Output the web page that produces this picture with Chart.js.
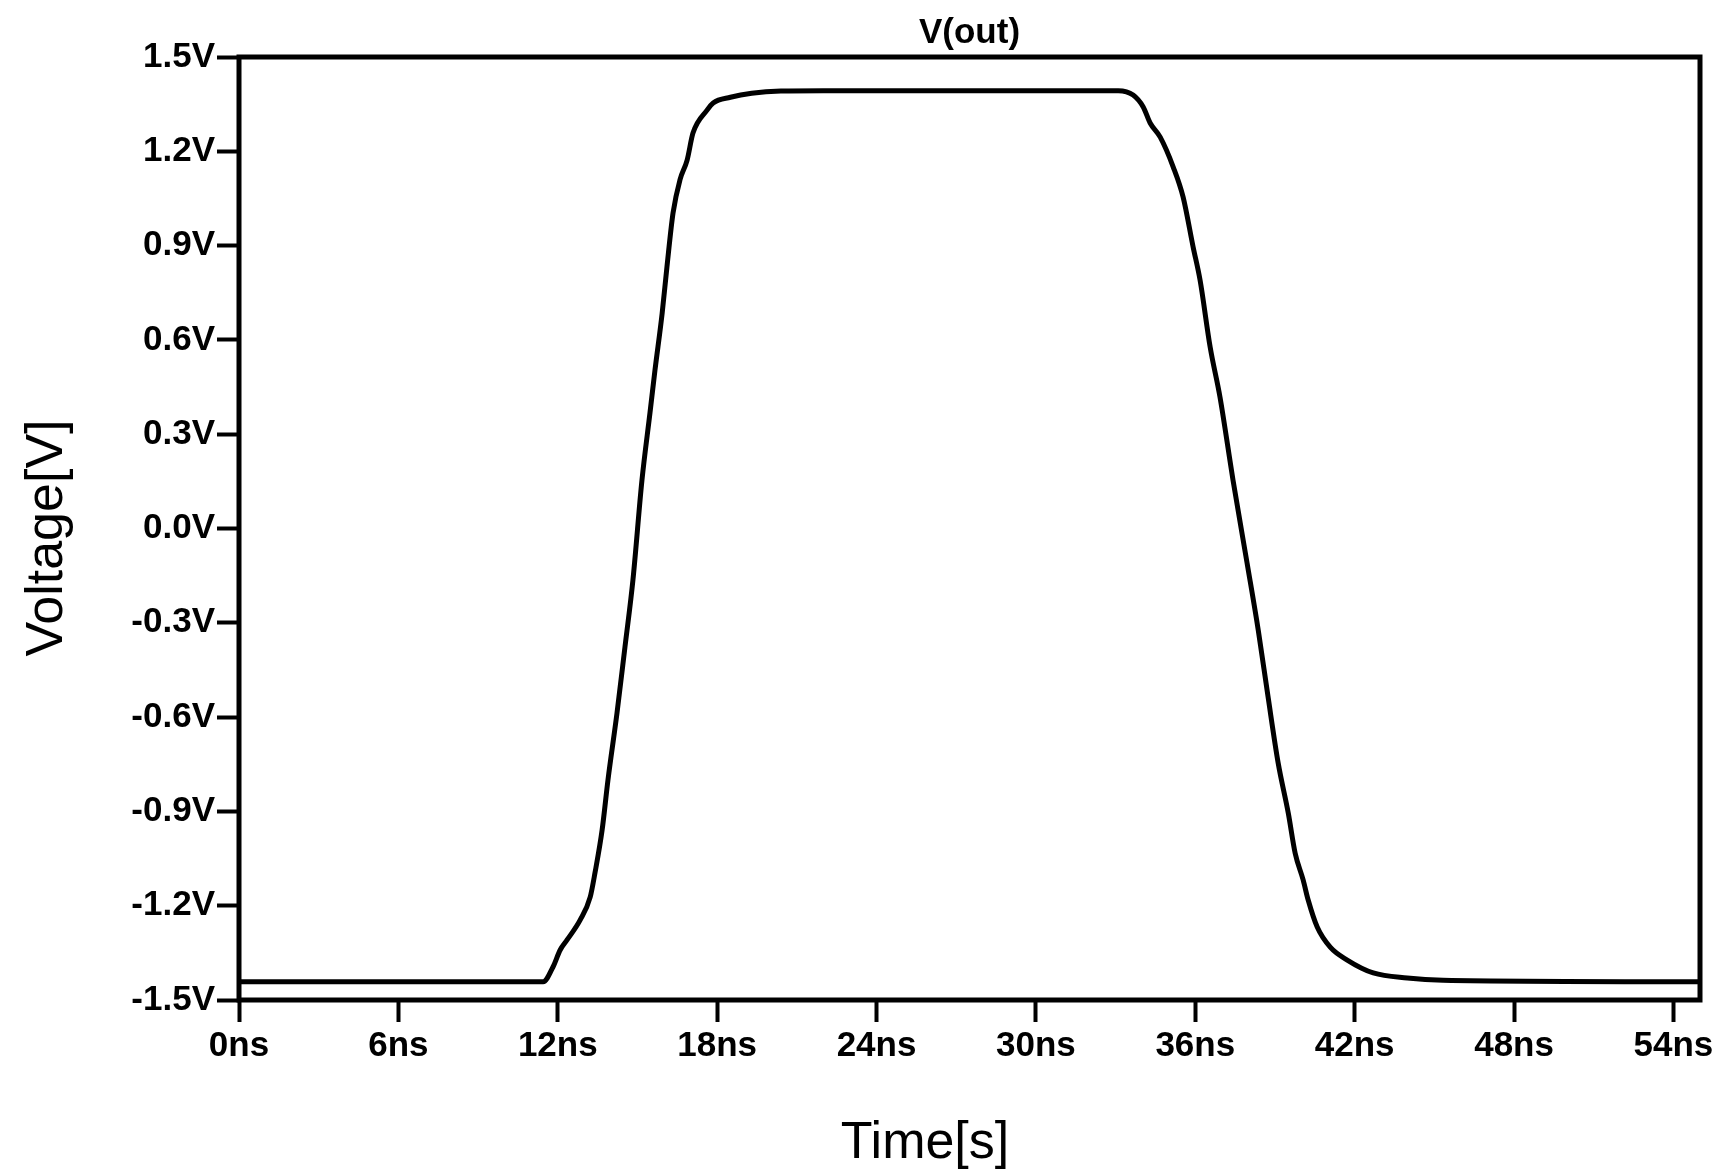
<!DOCTYPE html>
<html>
<head>
<meta charset="utf-8">
<script src="https://cdn.jsdelivr.net/npm/chart.js@4/dist/chart.umd.min.js"></script>
<style>
  body { margin: 0; background: #fff; }
  #wrap { width: 1722px; height: 1172px; }
</style>
</head>
<body>
<div id="wrap"><canvas id="vout"></canvas></div>
<script>
// V(out) transient (time in ns, voltage in V)
const timeNs = [0, 11.45, 11.82, 12.09, 12.35, 12.84, 13.22, 13.4, 13.67, 13.89,
  14.23, 14.53, 14.83, 15.17, 15.47, 15.66, 15.93, 16.11, 16.34, 16.6,
  16.87, 17.09, 17.62, 17.85, 18.5, 19.3, 20.4, 22, 33.1, 33.66,
  34.04, 34.3, 34.68, 35.17, 35.54, 35.92, 36.18, 36.56, 36.93, 37.42,
  37.95, 38.37, 38.74, 39.12, 39.5, 39.76, 40.06, 40.25, 40.59, 41.08,
  41.72, 42.7, 43.98, 45.33, 55];
const voltage = [-1.442, -1.442, -1.395, -1.341, -1.309, -1.246, -1.173, -1.096, -0.959, -0.80,
  -0.587, -0.377, -0.164, 0.154, 0.367, 0.504, 0.685, 0.832, 1.004, 1.109,
  1.172, 1.258, 1.331, 1.354, 1.372, 1.385, 1.392, 1.393, 1.393, 1.379,
  1.341, 1.29, 1.245, 1.15, 1.055, 0.895, 0.79, 0.577, 0.418, 0.154,
  -0.11, -0.323, -0.536, -0.746, -0.905, -1.033, -1.118, -1.182, -1.268, -1.332,
  -1.373, -1.414, -1.43, -1.437, -1.442];

const timeTicks = [0, 6, 12, 18, 24, 30, 36, 42, 48, 54];
const timeTickLabels = ["0ns", "6ns", "12ns", "18ns", "24ns", "30ns", "36ns", "42ns", "48ns", "54ns"];
const voltTicks = [-1.5, -1.2, -0.9, -0.6, -0.3, 0, 0.3, 0.6, 0.9, 1.2, 1.5];
const voltTickLabels = ["-1.5V", "-1.2V", "-0.9V", "-0.6V", "-0.3V", "0.0V", "0.3V", "0.6V", "0.9V", "1.2V", "1.5V"];

const chartTitle = "V(out)";
const xTitle = "Time[s]";
const yTitle = "Voltage[V]";

const FONT = "'Liberation Sans', Arial, sans-serif";

// frame round the plot + title and axis titles
const framePlugin = {
  id: "frame",
  afterDraw(chart) {
    const ctx = chart.ctx;
    const a = chart.chartArea;
    ctx.save();
    ctx.strokeStyle = "#000";
    ctx.lineWidth = 5;
    ctx.strokeRect(a.left, a.top, a.right - a.left, a.bottom - a.top);

    ctx.fillStyle = "#000";
    ctx.textAlign = "center";
    ctx.textBaseline = "alphabetic";
    ctx.font = "bold 35px " + FONT;
    ctx.fillText(chartTitle, (a.left + a.right) / 2, 43);

    ctx.font = "52px " + FONT;
    ctx.fillText(xTitle, 925, 1158);

    ctx.translate(62, 538);
    ctx.rotate(-Math.PI / 2);
    ctx.fillText(yTitle, 0, 0);
    ctx.restore();
  }
};

const points = timeNs.map((t, i) => ({ x: t, y: voltage[i] }));

new Chart(document.getElementById("vout"), {
  type: "line",
  data: {
    datasets: [{
      label: "V(out)",
      data: points,
      borderColor: "#000",
      borderWidth: 5,
      pointRadius: 0,
      fill: false,
      cubicInterpolationMode: "monotone"
    }]
  },
  options: {
    responsive: true,
    maintainAspectRatio: false,
    animation: false,
    layout: { padding: { top: 57, right: 22, left: 0, bottom: 0 } },
    plugins: {
      legend: { display: false },
      title: { display: false },
      tooltip: { enabled: false }
    },
    scales: {
      x: {
        type: "linear",
        min: 0,
        max: 55,
        afterBuildTicks: s => { s.ticks = timeTicks.map(v => ({ value: v })); },
        afterFit: s => { s.height = 172; },
        border: { display: false },
        grid: { drawOnChartArea: false, drawTicks: true, tickLength: 22, tickWidth: 4, tickColor: "#000" },
        ticks: {
          color: "#000",
          font: { family: FONT, size: 35, weight: "bold" },
          padding: 3,
          maxRotation: 0,
          autoSkip: false,
          callback: (v, i) => timeTickLabels[i]
        }
      },
      y: {
        type: "linear",
        min: -1.5,
        max: 1.5,
        afterBuildTicks: s => { s.ticks = voltTicks.map(v => ({ value: v })); },
        afterFit: s => { s.width = 239; },
        border: { display: false },
        grid: { drawOnChartArea: false, drawTicks: true, tickLength: 22, tickWidth: 4, tickColor: "#000" },
        ticks: {
          color: "#000",
          font: { family: FONT, size: 35, weight: "bold" },
          padding: 2,
          autoSkip: false,
          callback: (v, i) => voltTickLabels[i]
        }
      }
    }
  },
  plugins: [framePlugin]
});
</script>
</body>
</html>
